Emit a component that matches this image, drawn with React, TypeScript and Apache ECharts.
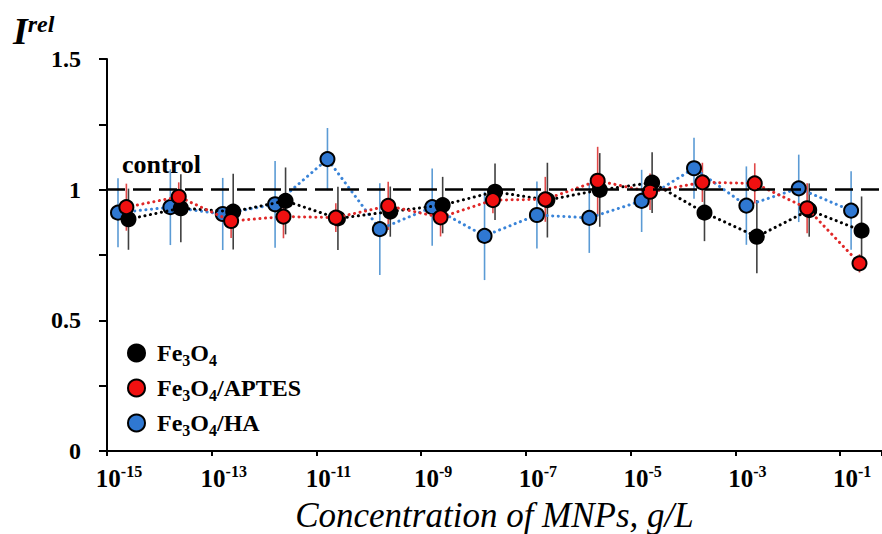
import React, { useEffect, useRef } from "react";
import * as echarts from "echarts";

// concentration exponents (g/L = 10^exponent)
const exponents = [-15, -14, -13, -12, -11, -10, -9, -8, -7, -6, -5, -4, -3, -2, -1];
const xTickExponents = [-15, -13, -11, -9, -7, -5, -3, -1];
const yTickLabels = [0, 0.5, 1, 1.5];
const seriesNames = ["Fe3O4", "Fe3O4/APTES", "Fe3O4/HA"];
// small horizontal offsets (in decades) of each series, as in the original
const fe3o4Shift = 0.41;
const aptesShift = 0.37;
const haShift = 0.21;

const fe3o4Values = [0.887, 0.929, 0.916, 0.957, 0.89, 0.916, 0.941, 0.992, 0.96, 0.999, 1.027, 0.912, 0.82, 0.922, 0.843];
const fe3o4Errors = [0.117, 0.13, 0.145, 0.128, 0.121, 0.096, 0.108, 0.108, 0.143, 0.141, 0.116, 0.109, 0.14, 0.102, 0.131];
const aptesValues = [0.933, 0.973, 0.88, 0.897, 0.893, 0.938, 0.894, 0.96, 0.963, 1.034, 0.992, 1.028, 1.024, 0.929, 0.718];
const aptesErrors = [0.09, 0.055, 0.065, 0.083, 0.055, 0.092, 0.073, 0.05, 0.086, 0.13, 0.07, 0.075, 0.077, 0.096, 0.035];
const haValues = [0.912, 0.933, 0.907, 0.944, 1.117, 0.849, 0.933, 0.823, 0.903, 0.892, 0.957, 1.082, 0.939, 1.005, 0.92];
const haErrors = [0.132, 0.145, 0.138, 0.166, 0.119, 0.176, 0.148, 0.169, 0.128, 0.134, 0.119, 0.117, 0.15, 0.129, 0.15];
const controlLevel = 1;

const SERIF = '"Liberation Serif", "Times New Roman", serif';
const X_OFFSET = 15; // axis is drawn in decades above 10^-15

function chemRich(name: string): string {
  const parts = name.split(/(\d)/).filter((p) => p !== "");
  return parts
    .map((p, i) => (/^\d$/.test(p) ? `{s|${p}}` : `{${i === 0 ? "f" : "n"}|${p}}`))
    .join("");
}

function errorSeries(name: string, shift: number, values: number[], errors: number[], color: string, z: number) {
  return {
    type: "custom",
    name: name + " error",
    z,
    silent: true,
    renderItem: (_params: any, api: any) => {
      const x = api.value(0);
      const lo = api.coord([x, api.value(1)]);
      const hi = api.coord([x, api.value(2)]);
      return {
        type: "line",
        shape: { x1: lo[0], y1: lo[1], x2: hi[0], y2: hi[1] },
        style: { stroke: color, lineWidth: 1.6 },
      };
    },
    encode: { x: 0, y: [1, 2] },
    data: values.map((v, i) => [exponents[i] + X_OFFSET + shift, v - errors[i], v + errors[i]]),
  };
}

function lineSeries(name: string, shift: number, values: number[], fill: string, lineColor: string, z: number) {
  return {
    type: "line",
    name,
    z,
    data: values.map((v, i) => [exponents[i] + X_OFFSET + shift, v]),
    symbol: "circle",
    symbolSize: 14,
    itemStyle: { color: fill, borderColor: "#000", borderWidth: 2 },
    lineStyle: { color: lineColor, width: 3, type: [0.1, 5.5], cap: "round" },
  };
}

export default function App() {
  const ref = useRef<HTMLDivElement>(null);
  useEffect(() => {
    if (!ref.current) return;
    const chart = echarts.init(ref.current, undefined, { renderer: "svg" });
    const option: any = {
      animation: false,
      backgroundColor: "#fff",
      grid: { left: 107, right: 0, top: 59, bottom: 83, containLabel: false, outerBoundsMode: "none" },
      xAxis: {
        type: "value",
        min: 0,
        max: 14.8,
        interval: 2,
        splitLine: { show: false },
        axisLine: { lineStyle: { color: "#000", width: 2 } },
        axisTick: { length: 5, lineStyle: { color: "#000", width: 2 } },
        axisLabel: {
          margin: 12,
          align: "center",
          padding: [0, 0, 0, 24],
          formatter: (v: number) => {
            const e = Math.round(v) - X_OFFSET;
            if (Math.abs(v - Math.round(v)) > 1e-6 || !xTickExponents.includes(e)) return "";
            return `{b|10}{s|${e}}`;
          },
          rich: {
            b: { fontFamily: SERIF, fontWeight: "bold", fontSize: 25, color: "#000", lineHeight: 30 },
            s: { fontFamily: SERIF, fontWeight: "bold", fontSize: 16, color: "#000", verticalAlign: "top", lineHeight: 30 },
          },
        },
        name: "Concentration of MNPs, g/L",
        nameLocation: "middle",
        nameGap: 47,
        nameTextStyle: { fontFamily: SERIF, fontStyle: "italic", fontSize: 35, color: "#000" },
      },
      yAxis: {
        type: "value",
        min: 0,
        max: 1.5,
        interval: 0.25,
        splitLine: { show: false },
        axisLine: { show: true, lineStyle: { color: "#000", width: 2 } },
        axisTick: { show: true, length: 8, lineStyle: { color: "#000", width: 2 } },
        axisLabel: {
          margin: 26,
          fontFamily: SERIF,
          fontWeight: "bold",
          fontSize: 24,
          color: "#000",
          formatter: (v: number) => {
            const hit = yTickLabels.find((t) => Math.abs(t - v) < 1e-6);
            return hit === undefined ? "" : String(hit);
          },
        },
      },
      legend: {
        data: seriesNames,
        orient: "vertical",
        left: 122,
        top: 336,
        icon: "circle",
        itemWidth: 17,
        itemHeight: 17,
        itemGap: 8,
        formatter: (name: string) => chemRich(name),
        textStyle: {
          rich: {
            f: { fontFamily: SERIF, fontWeight: "bold", fontSize: 24, color: "#000", padding: [0, 0, 0, 7], lineHeight: 30 },
            n: { fontFamily: SERIF, fontWeight: "bold", fontSize: 24, color: "#000", lineHeight: 30 },
            s: { fontFamily: SERIF, fontWeight: "bold", fontSize: 16, color: "#000", verticalAlign: "bottom", lineHeight: 30 },
          },
        },
      },
      graphic: [
        {
          type: "text",
          left: 13,
          top: 12,
          style: {
            text: "{i|I}{r|rel}",
            rich: {
              i: { fontFamily: SERIF, fontStyle: "italic", fontWeight: "bold", fontSize: 38, fill: "#000", lineHeight: 38 },
              r: { fontFamily: SERIF, fontStyle: "italic", fontWeight: "bold", fontSize: 24, fill: "#000", verticalAlign: "top", lineHeight: 38 },
            },
          },
        },
        {
          type: "text",
          left: 122,
          top: 151,
          style: { text: "control", font: `bold 26px ${SERIF}`, fill: "#000" },
        },
      ],
      series: [
        errorSeries("Fe3O4/HA", haShift, haValues, haErrors, "#5b9bd5", 1),
        errorSeries("Fe3O4", fe3o4Shift, fe3o4Values, fe3o4Errors, "#404040", 1),
        errorSeries("Fe3O4/APTES", aptesShift, aptesValues, aptesErrors, "#e04848", 1),
        {
          type: "line",
          name: "control",
          z: 1.5,
          data: [],
          markLine: {
            silent: true,
            symbol: ["none", "none"],
            label: { show: false },
            lineStyle: { color: "#000", type: [18, 8], width: 2.5 },
            data: [{ yAxis: controlLevel }],
          },
        },
        lineSeries("Fe3O4/HA", haShift, haValues, "#2f78d2", "#3a84d8", 2),
        lineSeries("Fe3O4", fe3o4Shift, fe3o4Values, "#000000", "#000000", 3),
        lineSeries("Fe3O4/APTES", aptesShift, aptesValues, "#f01010", "#e02828", 4),
      ],
    };
    chart.setOption(option);
    return () => chart.dispose();
  }, []);
  return <div ref={ref} style={{ position: "fixed", left: 0, top: 0, width: 882, height: 534 }} />;
}
